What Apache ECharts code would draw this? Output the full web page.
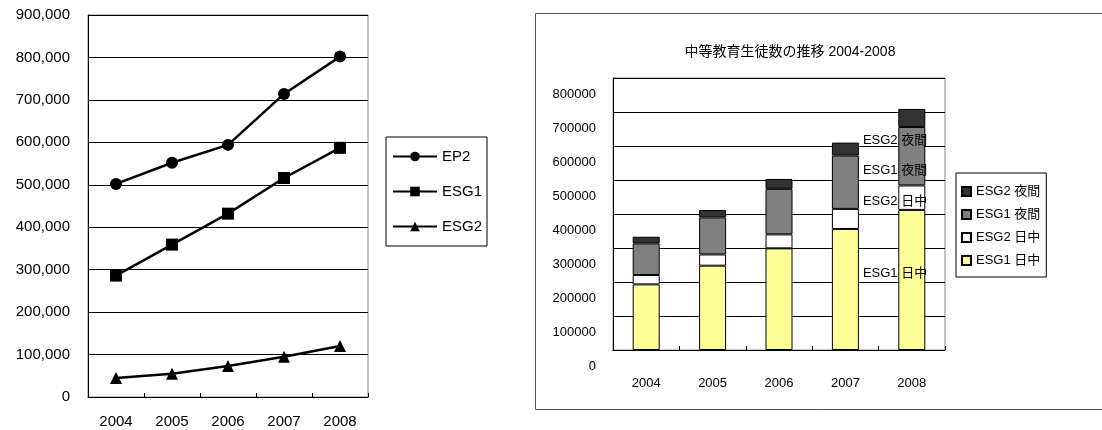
<!DOCTYPE html>
<html>
<head>
<meta charset="utf-8">
<script src="https://cdn.jsdelivr.net/npm/echarts@6/dist/echarts.min.js"></script>
<style>
html,body{margin:0;padding:0;background:#fff;}
#main{width:1102px;height:430px;}
</style>
</head>
<body>
<div id="main"></div>
<script>
// ---- Data ----
var years = ['2004', '2005', '2006', '2007', '2008'];

// Left chart (line)
var ep2  = [502000, 552000, 594000, 714000, 802000];
var esg1 = [286000, 359000, 432000, 516000, 587000];
var esg2 = [45000, 55000, 73000, 95000, 120000];

// Right chart (stacked bars)
var esg1Day   = [193000, 248000, 299000, 356000, 412000];
var esg2Day   = [27500, 33000, 41000, 59000, 72000];
var esg1Night = [93000, 109000, 134000, 157000, 172000];
var esg2Night = [19600, 21600, 29000, 38000, 53000];

var barTitle = '中等教育生徒数の推移 2004-2008';
var barNames = ['ESG1 日中', 'ESG2 日中', 'ESG1 夜間', 'ESG2 夜間'];
var lineNames = ['EP2', 'ESG1', 'ESG2'];

var FONT = "'Liberation Sans', 'Noto Sans CJK JP', sans-serif";

var chart = echarts.init(document.getElementById('main'));

function labelled(values, dy) {
  // put the series-name label on the 2007 column
  return values.map(function (v, i) {
    if (i === 3) {
      return {
        value: v,
        label: {
          show: true, position: 'right', distance: 4, offset: [0, dy],
          formatter: '{a}', color: '#000', fontSize: 13, fontFamily: FONT
        }
      };
    }
    return v;
  });
}

var barColors = ['#FFFF99', '#FFFFFF', '#808080', '#333333'];
var barData = [esg1Day, esg2Day, esg1Night, esg2Night];
var barOffsets = [-16, -18, -12, -9];

var barSeries = barData.map(function (d, k) {
  return {
    name: barNames[k],
    type: 'bar',
    stack: 'total',
    xAxisIndex: 1,
    yAxisIndex: 1,
    barWidth: 27,
    itemStyle: { color: barColors[k], borderColor: '#000', borderWidth: 1 },
    data: labelled(d, barOffsets[k]),
    z: 3
  };
});

var lineSymbols = ['circle', 'rect', 'triangle'];
var lineData = [ep2, esg1, esg2];
var lineSeries = lineData.map(function (d, k) {
  return {
    name: lineNames[k],
    type: 'line',
    xAxisIndex: 0,
    yAxisIndex: 0,
    symbol: lineSymbols[k],
    symbolSize: 12,
    color: '#000',
    lineStyle: { color: '#000', width: 2.5 },
    itemStyle: { color: '#000' },
    data: d
  };
});

var option = {
  animation: false,
  backgroundColor: '#fff',
  textStyle: { fontFamily: FONT, color: '#000' },
  title: {
    text: barTitle,
    left: 785,
    top: 40,
    textAlign: 'center',
    textStyle: { fontSize: 14, fontWeight: 'normal', color: '#000', fontFamily: FONT }
  },
  graphic: [{
    type: 'rect',
    shape: { x: 535.5, y: 13.5, width: 620, height: 396 },
    style: { fill: null, stroke: '#555', lineWidth: 1 },
    silent: true,
    z: -10
  }],
  legend: [{
    data: lineNames,
    orient: 'vertical',
    left: 386,
    top: 137,
    itemWidth: 44,
    itemHeight: 12,
    itemGap: 20,
    padding: [12, 5, 12, 6],
    borderColor: '#000',
    borderWidth: 1,
    backgroundColor: '#fff',
    textStyle: { fontSize: 15, color: '#000', fontFamily: FONT }
  }, {
    data: barNames.slice().reverse(),
    orient: 'vertical',
    left: 956,
    top: 173,
    icon: 'rect',
    itemWidth: 9,
    itemHeight: 9,
    itemGap: 10,
    padding: [12, 6, 10, 5],
    borderColor: '#000',
    borderWidth: 1,
    backgroundColor: '#fff',
    textStyle: { fontSize: 13, color: '#000', fontFamily: FONT }
  }],
  grid: [{
    left: 88, top: 15, width: 280, height: 382,
    show: true, borderColor: '#888', borderWidth: 1,
    outerBoundsMode: 'none', containLabel: false
  }, {
    left: 613, top: 78, width: 332, height: 272,
    show: true, borderColor: '#888', borderWidth: 1,
    outerBoundsMode: 'none', containLabel: false
  }],
  xAxis: [{
    type: 'category', gridIndex: 0, data: years, boundaryGap: true,
    axisLine: { lineStyle: { color: '#000', width: 1 } },
    axisTick: { show: true, inside: true, length: 4, lineStyle: { color: '#000' } },
    axisLabel: { color: '#000', fontSize: 15, margin: 17, fontFamily: FONT }
  }, {
    type: 'category', gridIndex: 1, data: years, boundaryGap: true,
    axisLine: { lineStyle: { color: '#000', width: 1 } },
    axisTick: { show: true, inside: true, length: 4, lineStyle: { color: '#000' } },
    axisLabel: { color: '#000', fontSize: 13, margin: 27, fontFamily: FONT }
  }],
  yAxis: [{
    type: 'value', gridIndex: 0, min: 0, max: 900000, interval: 100000,
    axisLine: { show: true, lineStyle: { color: '#000', width: 1 } },
    axisTick: { show: false },
    splitLine: { show: true, lineStyle: { color: '#000', width: 1 } },
    axisLabel: {
      color: '#000', fontSize: 15, margin: 18, fontFamily: FONT,
      showMinLabel: true, showMaxLabel: true,
      formatter: function (v) { return v.toLocaleString('en-US'); }
    }
  }, {
    type: 'value', gridIndex: 1, min: 0, max: 800000, interval: 100000,
    axisLine: { show: true, lineStyle: { color: '#000', width: 1 } },
    axisTick: { show: false },
    splitLine: { show: true, lineStyle: { color: '#000', width: 1 } },
    axisLabel: {
      color: '#000', fontSize: 13, margin: 17, fontFamily: FONT,
      lineHeight: 33,
      verticalAlign: 'top',
      showMinLabel: true, showMaxLabel: true,
      hideOverlap: false,
      formatter: function (v) { return String(v); }
    }
  }],
  series: lineSeries.concat(barSeries)
};

chart.setOption(option);
</script>
</body>
</html>
